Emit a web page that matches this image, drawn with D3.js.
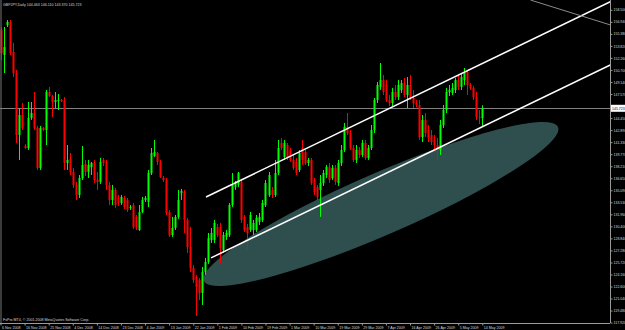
<!DOCTYPE html>
<html>
<head>
<meta charset="utf-8">
<script src="https://cdnjs.cloudflare.com/ajax/libs/d3/7.8.5/d3.min.js"></script>
<style>
body { margin: 0; background: #000; }
svg { display: block; }
text { font-family: "Liberation Sans", Arial, sans-serif; }
</style>
</head>
<body>
<div class="chart"></div>
<script>
const WIDTH = 625;
const HEIGHT = 330;
const PLOT_RIGHT = 610;
const PLOT_BOTTOM = 323;
const FONT = '3.6px';

// GBPJPY daily, 6 Nov 2008 .. 14 May 2009 (one entry per bar)
var open = [155.88,152.64,156.53,156.92,153.03,150.30,142.26,144.85,140.83,140.57,144.47,145.11,143.17,137.98,143.17,142.91,147.84,147.32,146.54,146.67,
  146.80,146.67,138.63,139.15,137.46,135.78,134.48,136.68,138.50,137.46,138.11,138.63,136.42,136.16,139.02,138.76,135.78,133.83,135.13,134.09,
  133.44,134.09,133.83,132.79,133.18,131.63,129.94,132.27,133.83,133.57,137.33,139.54,139.93,138.76,136.68,136.42,132.27,129.29,130.20,131.63,
  134.74,134.87,131.24,127.73,125.01,123.84,123.45,121.77,124.49,125.79,128.64,128.64,130.33,130.33,127.34,129.03,129.29,133.18,135.52,135.78,
  136.16,131.63,130.33,129.94,129.94,129.94,130.98,131.24,133.18,134.48,135.13,134.48,137.33,141.22,139.41,140.96,140.31,139.02,138.76,137.72,
  140.57,140.06,138.63,139.02,136.42,135.52,135.13,136.03,137.07,138.11,136.68,137.98,136.03,138.63,140.31,143.30,142.52,140.57,139.02,140.31,
  139.67,141.22,139.28,140.57,142.91,146.80,148.49,149.39,148.75,146.80,146.41,147.84,147.19,148.10,149.00,147.45,148.75,147.06,146.41,146.15,
  142.00,144.21,142.91,142.26,141.61,140.96,140.31,143.56,145.50,147.84,147.71,148.10,149.39,148.49,149.39,150.43,148.75,148.36,147.19,144.60,
  144.463];
var high = [156.27,156.27,157.18,157.18,154.19,150.69,145.76,146.41,141.09,146.54,146.54,147.84,143.43,143.43,143.30,148.10,148.49,147.45,147.84,147.58,
  146.93,147.19,140.96,139.93,137.98,136.16,137.07,140.83,139.02,139.02,138.76,139.02,137.46,139.28,139.28,139.02,136.16,135.78,135.39,134.48,
  134.48,134.35,134.09,133.18,133.44,131.88,133.18,134.22,134.35,137.72,140.57,141.61,140.06,139.02,136.94,136.68,132.53,131.63,131.88,135.13,
  135.26,135.13,131.50,130.33,125.40,124.10,123.71,125.14,126.31,129.55,130.20,131.24,130.72,130.85,129.68,129.94,133.44,137.33,136.29,137.46,
  136.42,131.88,130.72,132.27,131.24,131.88,132.14,133.83,136.42,137.46,135.52,139.02,141.61,141.87,141.61,141.22,140.57,139.67,139.28,140.31,
  141.61,140.31,139.28,139.28,136.68,135.78,137.07,137.72,138.37,138.63,138.37,138.37,139.02,140.96,143.82,145.11,142.91,140.96,140.96,140.70,
  141.61,141.61,140.96,143.56,147.06,149.13,151.60,150.04,149.39,147.45,148.36,148.75,149.39,149.39,149.65,149.78,150.04,148.10,146.80,146.80,
  144.85,145.11,143.56,142.91,142.26,141.87,144.21,146.15,148.36,148.75,149.00,149.65,150.04,150.30,150.95,150.69,149.00,148.62,147.84,145.50,
  146.110];
var low = [151.99,150.30,156.27,152.64,149.78,141.22,139.02,142.91,140.44,140.31,144.21,142.91,137.72,137.72,142.78,140.96,147.19,144.60,145.76,145.50,
  146.54,137.72,137.72,137.07,135.39,133.83,134.09,136.42,136.94,136.68,137.07,136.03,135.13,135.91,138.24,135.13,133.18,133.18,132.79,133.05,
  133.18,132.66,132.27,132.53,130.07,129.94,129.81,132.14,133.57,132.92,137.07,139.41,138.37,136.68,136.16,131.88,129.03,129.03,129.94,131.37,
  133.83,129.55,126.96,124.49,123.06,118.78,120.86,120.21,124.10,125.53,128.25,128.25,129.03,125.66,126.96,128.64,129.03,132.92,135.13,135.52,
  130.85,129.68,127.34,129.68,129.29,129.68,130.59,130.98,132.92,134.22,134.09,134.22,137.07,140.31,139.02,139.02,138.76,137.72,137.07,137.46,
  138.37,138.37,138.24,135.78,134.48,133.83,131.63,135.65,136.68,136.03,136.42,135.78,135.65,138.24,140.06,142.26,140.31,138.76,138.63,139.28,
  139.41,139.02,139.02,140.31,142.52,146.41,148.10,147.45,146.54,146.02,146.02,146.80,146.80,147.71,147.19,145.76,146.80,145.76,145.89,141.61,
  141.35,142.00,141.35,140.96,140.06,139.02,139.67,143.17,145.11,147.32,147.45,147.71,148.10,148.10,148.75,147.45,148.10,146.80,144.21,143.69,
  143.370];
var close = [152.90,153.67,156.92,152.90,150.30,142.26,144.85,143.17,140.57,144.47,145.11,143.17,137.98,143.17,142.91,147.84,147.32,146.54,146.80,146.80,
  146.67,138.63,139.02,137.46,135.78,134.48,136.68,138.37,137.46,138.37,138.63,136.42,136.16,138.76,138.63,135.78,133.83,135.13,133.18,133.44,
  134.22,132.92,132.53,132.92,130.33,130.20,132.27,133.83,134.09,137.33,139.93,140.06,138.76,136.81,136.42,132.14,129.29,130.20,131.63,133.83,
  135.00,131.24,127.73,125.01,123.45,122.55,121.77,124.49,125.79,128.90,129.55,130.85,129.29,127.60,129.29,129.55,133.18,135.78,136.03,137.33,
  131.24,129.94,129.55,131.88,130.85,131.50,131.63,133.44,136.03,137.07,134.48,137.33,140.57,140.57,141.22,139.28,139.02,137.98,137.33,139.93,
  139.02,138.63,139.02,136.03,134.87,134.22,136.03,137.33,138.11,136.42,137.98,136.16,138.63,140.31,143.30,142.52,140.57,139.02,140.31,139.67,
  141.22,139.28,140.57,142.91,146.80,148.75,149.39,147.84,146.80,146.41,147.84,147.19,148.75,149.00,147.45,148.75,147.06,146.41,146.15,142.00,
  144.21,142.52,141.87,141.35,140.96,140.31,143.56,145.50,147.84,148.10,148.36,149.39,148.49,149.78,150.43,148.75,148.36,147.19,144.60,144.47,
  145.723];

var dateLabels = ["6 Nov 2008", "16 Nov 2008", "25 Nov 2008", "4 Dec 2008", "14 Dec 2008", "23 Dec 2008", "4 Jan 2009",
  "13 Jan 2009", "22 Jan 2009", "1 Feb 2009", "10 Feb 2009", "19 Feb 2009", "1 Mar 2009", "10 Mar 2009", "19 Mar 2009",
  "29 Mar 2009", "7 Apr 2009", "16 Apr 2009", "26 Apr 2009", "5 May 2009", "14 May 2009"];
var dateLabelBars = [0, 8, 16, 24, 32, 40, 48, 56, 64, 72, 80, 88, 96, 104, 112, 120, 128, 136, 144, 152, 160];

// the label at 146.010 sits under the last-price box, so it is not listed
var priceLabels = ["158.500", "156.940", "155.380", "153.820", "152.260", "150.700", "149.140", "147.570",
  "144.450", "142.890", "141.330", "139.770", "138.210", "136.650", "135.090", "133.530", "131.960", "130.400",
  "128.840", "127.280", "125.720", "124.160", "122.600", "121.040", "119.480", "117.920"];

var titleText = "GBPJPY,Daily  144.463 146.110 143.370 145.723";
var footerText = "FxPro MT4, \u00a9 2001-2008 MetaQuotes Software Corp.";
var lastPrice = 145.723;

// drawn objects, anchors as [bar, price]
var upperChannel = [[68.25, 134.22], [203, 159.64]];
var lowerChannel = [[69.9, 126.31], [203, 151.44]];
var greyLine = [[176, 159.77], [202.6, 156.53]];
var ellipseTips = [[67.58, 123.32], [185.14, 143.30]];
var ellipseRatio = 0.16;

var x = d3.scaleLinear().domain([0, 160]).range([0.5, 482.3]);
var y = d3.scaleLinear().domain([117.865, 159.775]).range([PLOT_BOTTOM, 0]);

var svg = d3.select('.chart').append('svg')
    .attr('width', WIDTH)
    .attr('height', HEIGHT);

svg.append('rect').attr('width', WIDTH).attr('height', HEIGHT).attr('fill', '#000');

svg.append('clipPath').attr('id', 'plot')
    .append('rect').attr('x', 0).attr('y', 0).attr('width', PLOT_RIGHT).attr('height', PLOT_BOTTOM);

var plot = svg.append('g').attr('clip-path', 'url(#plot)');

function drawEllipse() {
    var x1 = x(ellipseTips[0][0]), y1 = y(ellipseTips[0][1]);
    var x2 = x(ellipseTips[1][0]), y2 = y(ellipseTips[1][1]);
    var a = Math.hypot(x2 - x1, y2 - y1) / 2;
    var angle = Math.atan2(y2 - y1, x2 - x1) * 180 / Math.PI;
    plot.append('ellipse')
        .attr('cx', 0).attr('cy', 0)
        .attr('rx', a).attr('ry', a * ellipseRatio)
        .attr('transform', 'translate(' + ((x1 + x2) / 2) + ',' + ((y1 + y2) / 2) + ') rotate(' + angle + ')')
        .attr('fill', '#2f4f4f');
}

function drawPriceLine() {
    plot.append('line')
        .attr('x1', 0).attr('x2', PLOT_RIGHT)
        .attr('y1', Math.round(y(lastPrice)) + 0.5).attr('y2', Math.round(y(lastPrice)) + 0.5)
        .attr('stroke', '#808080').attr('stroke-width', 1);
}

function drawCandles() {
    var bars = d3.range(open.length);
    var g = plot.append('g');
    g.selectAll('line.wick').data(bars).enter().append('line')
        .attr('class', 'wick')
        .attr('x1', function (i) { return Math.round(x(i)) + 0.5; })
        .attr('x2', function (i) { return Math.round(x(i)) + 0.5; })
        .attr('y1', function (i) { return y(high[i]); })
        .attr('y2', function (i) { return y(low[i]); })
        .attr('stroke', function (i) { return close[i] >= open[i] ? '#00ff00' : '#ff0000'; })
        .attr('stroke-width', 1);
    g.selectAll('rect.body').data(bars).enter().append('rect')
        .attr('class', 'body')
        .attr('x', function (i) { return Math.round(x(i)) - 0.5; })
        .attr('width', 2)
        .attr('y', function (i) { return y(Math.max(open[i], close[i])); })
        .attr('height', function (i) { return Math.max(1, Math.abs(y(open[i]) - y(close[i]))); })
        .attr('fill', function (i) { return close[i] >= open[i] ? '#00ff00' : '#ff0000'; });
}

function drawLines() {
    var line = d3.line().x(function (d) { return x(d[0]); }).y(function (d) { return y(d[1]); });
    plot.append('path').attr('d', line(upperChannel))
        .attr('stroke', '#fff').attr('stroke-width', 1.5).attr('fill', 'none');
    plot.append('path').attr('d', line(lowerChannel))
        .attr('stroke', '#fff').attr('stroke-width', 1.5).attr('fill', 'none');
    plot.append('path').attr('d', line(greyLine))
        .attr('stroke', '#8a8a8a').attr('stroke-width', 1).attr('fill', 'none');
}

function drawAxes() {
    var yAxis = d3.axisRight(y)
        .tickValues(priceLabels.map(Number))
        .tickFormat(function (d, i) { return priceLabels[i]; })
        .tickSize(2).tickPadding(1);
    var yg = svg.append('g').attr('transform', 'translate(' + (PLOT_RIGHT + 0.5) + ',0)').call(yAxis);
    yg.select('.domain').attr('stroke', '#9a9a9a').attr('d', 'M0,0V' + PLOT_BOTTOM);
    yg.selectAll('.tick line').attr('stroke', '#9a9a9a');
    yg.selectAll('.tick text').attr('fill', '#d8d8d8').style('font-size', '3.5px');

    var xAxis = d3.axisBottom(x)
        .tickValues(dateLabelBars)
        .tickFormat(function (d, i) { return dateLabels[i]; })
        .tickSize(2).tickPadding(1);
    var xg = svg.append('g').attr('transform', 'translate(0,' + (PLOT_BOTTOM + 0.5) + ')').call(xAxis);
    xg.select('.domain').attr('stroke', '#9a9a9a').attr('d', 'M0,0H' + PLOT_RIGHT);
    xg.selectAll('.tick line').attr('stroke', '#9a9a9a');
    xg.selectAll('.tick text').attr('fill', '#d8d8d8').style('font-size', FONT)
        .attr('text-anchor', 'start').attr('dx', 1);

    svg.append('line').attr('x1', 1).attr('x2', 1).attr('y1', 0).attr('y2', PLOT_BOTTOM)
        .attr('stroke', '#777');
}

function drawTexts() {
    svg.append('text').attr('x', 3).attr('y', 5.5).text(titleText)
        .attr('fill', '#d8d8d8').style('font-size', FONT);
    svg.append('text').attr('x', 3).attr('y', 321).text(footerText)
        .attr('fill', '#d8d8d8').style('font-size', FONT);
    var py = y(lastPrice);
    svg.append('rect').attr('x', PLOT_RIGHT + 1).attr('y', py - 3.5).attr('width', 14).attr('height', 7)
        .attr('fill', '#fff');
    svg.append('text').attr('x', PLOT_RIGHT + 2).attr('y', py + 1.3).text(lastPrice.toFixed(3))
        .attr('fill', '#000').style('font-size', '3.5px');
}

drawEllipse();
drawPriceLine();
drawCandles();
drawLines();
drawAxes();
drawTexts();
</script>
</body>
</html>
